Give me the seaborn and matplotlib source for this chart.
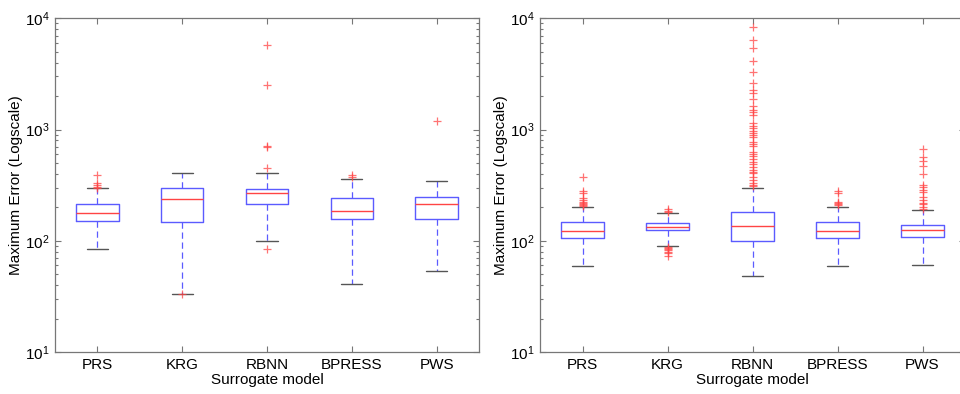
import numpy as np
import pandas as pd
import matplotlib
matplotlib.use("Agg")
import matplotlib.pyplot as plt
import seaborn as sns
from matplotlib.ticker import LogLocator, NullFormatter

models = ["PRS", "KRG", "RBNN", "BPRESS", "PWS"]

# Left panel: box statistics
left_low_whisker = [84, 33.5, 99, 41, 54]
left_q1 = [152, 147, 216, 158, 156]
left_median = [176, 235, 270, 187, 213]
left_q3 = [212, 299, 295, 240, 248]
left_high_whisker = [299, 403, 406, 356, 348]
left_outliers = [
    [389, 332, 316, 305, 301],
    [33.5],
    [5754, 2530, 714, 700, 453, 85],
    [389, 375],
    [1183],
]

# Right panel
right_low_whisker = [59.4, 90.6, 48.6, 59, 61]
right_q1 = [106, 124, 100, 105, 108]
right_median = [123, 134, 135, 123, 124]
right_q3 = [146, 145, 182, 146, 140]
right_high_whisker = [202, 176, 301, 202, 188]
right_outliers = [
    [371, 281, 270, 240, 232, 225, 220, 215, 210, 206],
    [195, 185, 181, 88, 86, 84, 82, 79, 77, 73],
    [8414, 6383, 5370, 4159, 3311, 2600, 2265, 2113, 1866, 1625, 1496, 1445,
     1349, 1135, 1074, 1023, 975, 923, 891, 849, 776, 739, 709, 631, 601,
     577, 538, 513, 489, 462, 437, 417, 403, 376, 351, 332, 316, 308],
    [281, 267, 224, 219, 212, 208],
    [667, 569, 516, 472, 397, 316, 306, 285, 276, 248, 233, 219, 212, 202, 195],
]

sns.set_theme(style="ticks")
plt.rcParams["font.family"] = ["Liberation Sans", "DejaVu Sans"]
plt.rcParams["mathtext.fontset"] = "custom"
plt.rcParams["mathtext.rm"] = "Liberation Sans"
plt.rcParams["mathtext.it"] = "Liberation Sans"

BLUE = "#5b5bff"
RED = "#ff4444"
GRAY = "#777777"
FS = 11


def box_frame(low, q1, med, q3, high):
    rows = []
    for i, m in enumerate(models):
        for v in (low[i], q1[i], med[i], q3[i], high[i]):
            rows.append((m, v))
    return pd.DataFrame(rows, columns=["model", "value"])


def out_frame(outs):
    rows = []
    for i, m in enumerate(models):
        for v in outs[i]:
            rows.append((m, v))
    return pd.DataFrame(rows, columns=["model", "value"])


fig = plt.figure(figsize=(9.6, 3.94), dpi=100)
ax1 = fig.add_axes([55 / 960, 1 - 352 / 394, (479 - 55) / 960, (352 - 18.3) / 394])
ax2 = fig.add_axes([540 / 960, 1 - 352 / 394, 425 / 960, (352 - 18.3) / 394])

panels = [
    (ax1, box_frame(left_low_whisker, left_q1, left_median, left_q3, left_high_whisker), out_frame(left_outliers)),
    (ax2, box_frame(right_low_whisker, right_q1, right_median, right_q3, right_high_whisker), out_frame(right_outliers)),
]

for ax, bdf, odf in panels:
    sns.boxplot(
        data=bdf, x="model", y="value", order=models, ax=ax,
        log_scale=True, whis=(0, 100), showfliers=False, fill=False,
        color=BLUE, width=0.5, linewidth=1.0,
        boxprops=dict(color=BLUE, linewidth=1.0),
        medianprops=dict(color=RED, linewidth=1.0),
        whiskerprops=dict(color=BLUE, linestyle=(0, (5, 3)), linewidth=0.9),
        capprops=dict(color="#555555", linewidth=1.0),
    )
    sns.stripplot(
        data=odf, x="model", y="value", order=models, ax=ax,
        log_scale=True, jitter=False, marker="+", color=RED, size=6,
        linewidth=0.9, alpha=0.75,
    )
    ax.set_xlim(-0.5, 4.5)
    ax.set_ylim(10, 1e4)
    ax.yaxis.set_major_locator(LogLocator(base=10, numticks=10))
    ax.yaxis.set_minor_locator(LogLocator(base=10, subs=np.arange(2, 10), numticks=10))
    ax.yaxis.set_minor_formatter(NullFormatter())
    ax.set_xlabel("Surrogate model", fontsize=FS, labelpad=1, color="black")
    ax.set_ylabel("Maximum Error (Logscale)", fontsize=FS, labelpad=1, color="black")
    ax.tick_params(axis="both", which="both", direction="in", top=True, right=True,
                   colors=GRAY, labelcolor="black", width=0.8)
    ax.tick_params(axis="both", which="major", length=4, labelsize=FS, pad=4)
    ax.tick_params(axis="y", which="minor", length=2.5)
    ax.tick_params(axis="x", which="minor", length=0)
    for s in ax.spines.values():
        s.set_color(GRAY)
        s.set_linewidth(0.9)
        s.set_visible(True)

fig.savefig("out.png", dpi=100, facecolor="white")
